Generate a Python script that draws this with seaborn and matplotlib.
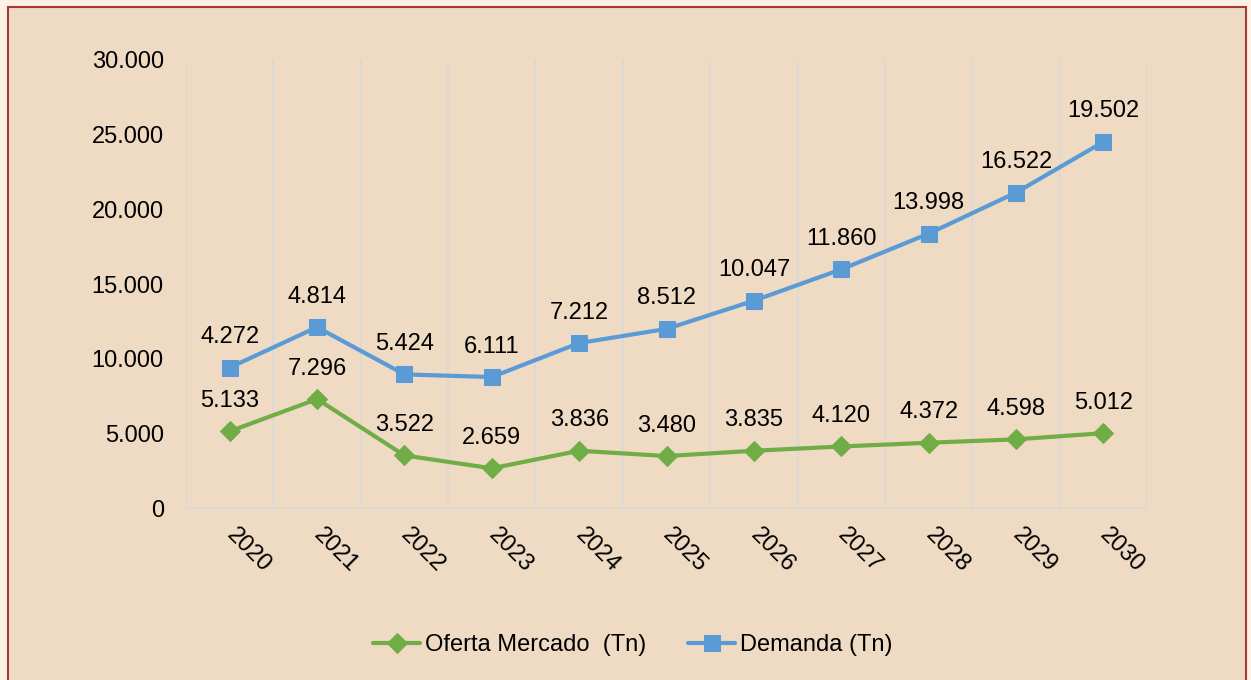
import matplotlib
matplotlib.use("Agg")
import matplotlib.pyplot as plt
import numpy as np
import pandas as pd
import seaborn as sns
from matplotlib.patches import Rectangle
from matplotlib.ticker import FuncFormatter, FixedLocator

years = ["2020", "2021", "2022", "2023", "2024", "2025", "2026", "2027", "2028", "2029", "2030"]
oferta = [5133, 7296, 3522, 2659, 3836, 3480, 3835, 4120, 4372, 4598, 5012]
demanda = [4272, 4814, 5424, 6111, 7212, 8512, 10047, 11860, 13998, 16522, 19502]

GREEN = "#70AD47"
BLUE = "#5B9BD5"
INNER = "#EFDBC3"


def miles(v):
    return f"{int(v):,}".replace(",", ".")


sns.set_style("white")
plt.rcParams["font.family"] = ["Liberation Sans", "DejaVu Sans"]
plt.rcParams["text.color"] = "black"
plt.rcParams["xtick.color"] = "black"
plt.rcParams["ytick.color"] = "black"

df = pd.DataFrame({"pos": np.arange(len(years)), "oferta": oferta, "demanda": demanda})
# stacked line: demanda sits on top of oferta
df["demanda_top"] = df["oferta"] + df["demanda"]

fig = plt.figure(figsize=(12.51, 6.8), dpi=100)
fig.patch.set_facecolor("#FDF1E3")
border = Rectangle((0.006, -0.01), 0.99, 1.0, transform=fig.transFigure,
                   facecolor=INNER, edgecolor="#A33A3A", linewidth=1.5, zorder=-10)
fig.add_artist(border)

ax = fig.add_axes([0.1487, 0.2529, 0.7682, 0.6589])
ax.set_facecolor(INNER)

sns.lineplot(data=df, x="pos", y="oferta", ax=ax, color=GREEN, linewidth=3,
             marker="D", markersize=10, markeredgecolor=GREEN, label="Oferta Mercado  (Tn)")
sns.lineplot(data=df, x="pos", y="demanda_top", ax=ax, color=BLUE, linewidth=3,
             marker="s", markersize=11, markeredgecolor=BLUE, label="Demanda (Tn)")

for x, y, v in zip(df["pos"], df["oferta"], df["oferta"]):
    ax.annotate(miles(v), (x, y), xytext=(0, 14), textcoords="offset points",
                ha="center", va="bottom", fontsize=17)
for x, y, v in zip(df["pos"], df["demanda_top"], df["demanda"]):
    ax.annotate(miles(v), (x, y), xytext=(0, 14), textcoords="offset points",
                ha="center", va="bottom", fontsize=17)

ax.set_xlim(-0.5, len(years) - 0.5)
ax.set_ylim(0, 30000)
ax.set_yticks(np.arange(0, 30001, 5000))
ax.yaxis.set_major_formatter(FuncFormatter(lambda v, p: miles(v)))
ax.set_xticks(df["pos"])
ax.set_xticklabels(years, rotation=-45, ha="left", va="center", rotation_mode="anchor")
ax.xaxis.set_minor_locator(FixedLocator(np.arange(-0.5, len(years), 1.0)))
ax.grid(which="minor", axis="x", color="#D9D9D9", linewidth=1.2)
ax.grid(which="major", axis="both", visible=False)
ax.tick_params(axis="both", which="both", length=0, labelsize=17)
ax.tick_params(axis="x", pad=17)
ax.tick_params(axis="y", pad=16)
ax.set_xlabel("")
ax.set_ylabel("")
for s in ["top", "right", "left"]:
    ax.spines[s].set_visible(False)
ax.spines["bottom"].set_color("#D9D9D9")
ax.spines["bottom"].set_linewidth(1.2)

ax.legend(loc="center", bbox_to_anchor=(0.465, -0.306),
          ncol=2, frameon=False, fontsize=17, handlelength=2.0, columnspacing=1.75,
          handletextpad=0.22)

fig.savefig("out.png", dpi=100, facecolor=fig.get_facecolor())
